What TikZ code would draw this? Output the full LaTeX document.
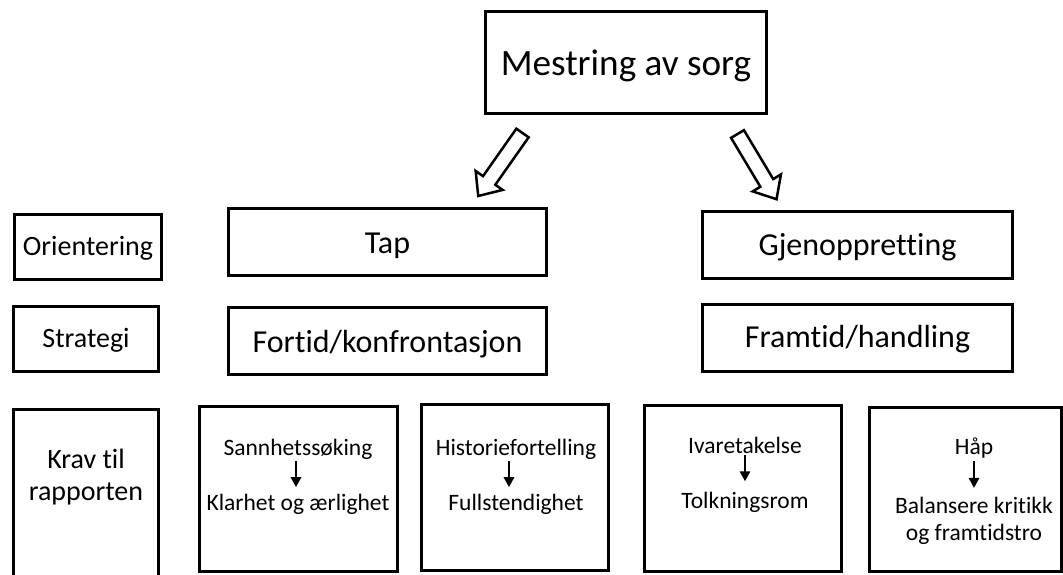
\documentclass[tikz,border=0pt]{standalone}
\usepackage{fontspec}
\setmainfont{Carlito}[Ligatures=NoCommon]
\usetikzlibrary{arrows.meta}
\begin{document}
\begin{tikzpicture}[x=1pt,y=-1pt,
  box/.style={draw, line width=3pt, inner sep=0pt, align=center, text depth=0pt},
  bigtxt/.style={font=\fontsize{37.2}{44}\selectfont, text height=25pt},
  midtxt/.style={font=\fontsize{32}{38}\selectfont},
  sidetxt/.style={font=\fontsize{28}{32}\selectfont},
  smalltxt/.style={font=\fontsize{23.5}{27}\selectfont, inner sep=0pt, align=center},
  sarrow/.style={line width=2.5pt, -{Triangle[width=10pt,length=10pt]}},
  hollow/.style={draw, line width=2.5pt, fill=white, line join=miter}
]
\useasboundingbox (0,0) rectangle (1063,574);

% top
\node[box, bigtxt, minimum width=281pt, minimum height=102pt] (top) at (626,62.5) {Mestring av sorg};

% left column
\node[box, sidetxt, text height=16pt, minimum width=147pt, minimum height=65pt] (orient) at (88,247) {Orientering};
\node[box, sidetxt, text height=16pt, minimum width=145pt, minimum height=65pt] (strat) at (86,339) {Strategi};
\node[box, minimum width=145pt, minimum height=200pt] (krav) at (86,509.5) {};
\node[sidetxt, align=center, inner sep=0pt, anchor=base] (kravtxt) at (86,500) {Krav til\\rapporten};

% orientation / strategy boxes
\node[box, midtxt, text height=22pt, minimum width=318pt, minimum height=67pt] (tap) at (387.5,242) {Tap};
\node[box, midtxt, text height=22pt, minimum width=318pt, minimum height=67pt] (fortid) at (387.5,341) {Fortid/konfrontasjon};
\node[box, midtxt, text height=20pt, minimum width=310pt, minimum height=67pt] (gjen) at (857.5,245) {Gjenoppretting};
\node[box, midtxt, text height=18pt, minimum width=310pt, minimum height=67pt] (framtid) at (857.5,338) {Framtid/handling};

% bottom boxes
\node[box, minimum width=198pt, minimum height=165pt] (b1) at (298.5,489) {};
\node[box, minimum width=187pt, minimum height=166pt] (b2) at (515,487.5) {};
\node[box, minimum width=197pt, minimum height=166pt] (b3) at (743,488.5) {};
\node[box, minimum width=192pt, minimum height=164pt] (b4) at (965.5,489.5) {};

\node[smalltxt, anchor=base] (s1) at (298,455) {Sannhetssøking};
\node[smalltxt, anchor=base] (k1) at (298,510) {Klarhet og ærlighet};
\node[smalltxt, anchor=base] (s2) at (516,455) {Historiefortelling};
\node[smalltxt, anchor=base] (k2) at (516,510) {Fullstendighet};
\node[smalltxt, anchor=base] (s3) at (745,453) {Ivaretakelse};
\node[smalltxt, anchor=base] (k3) at (745,508) {Tolkningsrom};
\node[smalltxt, anchor=base] (s4) at (974,454) {Håp};
\node[smalltxt, anchor=base] (k4) at (974,540) {Balansere kritikk\\og framtidstro};

\draw[sarrow] ([xshift=-2pt]s1.south) ++(0,2) -- ++(0,26);
\draw[sarrow] ([xshift=-7pt]s2.south) ++(0,2) -- ++(0,26);
\draw[sarrow] (s3.south) ++(0,2) -- ++(0,26);
\draw[sarrow] (s4.south) ++(0,3) -- ++(0,27);

% hollow arrows
\coordinate (la) at (522.5,133);
\coordinate (ra) at (737.5,134);
\begin{scope}[shift={(la)}, rotate=-125.1]
  \draw[hollow] (0,7.5) -- (58,7.5) -- (58,16.5) -- (77,0) -- (58,-16.5) -- (58,-7.5) -- (0,-7.5) -- cycle;
\end{scope}
\begin{scope}[shift={(ra)}, rotate=-59.1]
  \draw[hollow] (0,7.5) -- (57,7.5) -- (57,16.5) -- (76,0) -- (57,-16.5) -- (57,-7.5) -- (0,-7.5) -- cycle;
\end{scope}
\end{tikzpicture}
\end{document}
